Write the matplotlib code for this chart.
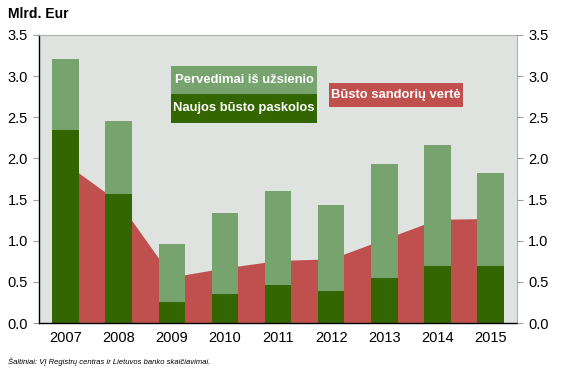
import numpy as np
import matplotlib
matplotlib.use("Agg")
import matplotlib.pyplot as plt
from matplotlib.patches import Rectangle

# ---------------------------------------------------------------------------
# Data (mlrd. Eur)
# ---------------------------------------------------------------------------
years      = [2007, 2008, 2009, 2010, 2011, 2012, 2013, 2014, 2015]
loans      = [2.35, 1.57, 0.26, 0.35, 0.46, 0.39, 0.55, 0.69, 0.69]   # Naujos būsto paskolos
transfers  = [0.86, 0.88, 0.70, 0.99, 1.15, 1.04, 1.38, 1.47, 1.13]   # Pervedimai iš užsienio
deals      = [1.94, 1.47, 0.56, 0.67, 0.76, 0.78, 1.02, 1.26, 1.27]   # Būsto sandorių vertė
yticks     = [0.0, 0.5, 1.0, 1.5, 2.0, 2.5, 3.0, 3.5]

C_BG    = "#dfe3e0"
C_LIGHT = "#76a36e"
C_DARK  = "#336600"
C_RED   = "#c0504d"

plt.rcParams["font.family"] = ["Liberation Sans", "DejaVu Sans"]

fig = plt.figure(figsize=(5.79, 3.72), dpi=100)
ax = fig.add_axes([0.0674, 0.1317, 0.8256, 0.7743])
ax.set_facecolor(C_BG)

x = np.arange(len(years))
ax.fill_between(x, 0, deals, color=C_RED, linewidth=0, zorder=1)
ax.bar(x, loans, width=0.5, color=C_DARK, zorder=2)
ax.bar(x, transfers, width=0.5, bottom=loans, color=C_LIGHT, zorder=2)

ax.set_xlim(-0.5, len(years) - 0.5)
ax.set_ylim(0, 3.5)
ax.set_xticks(x)
ax.set_xticklabels([str(y) for y in years], fontsize=10.5)
ax.tick_params(axis="x", length=0, pad=6)
ax.set_yticks(yticks)
ax.set_yticklabels([f"{v:.1f}" for v in yticks], fontsize=10.5)
ax.tick_params(axis="y", length=4, color="#a0a0a0", pad=4)

for s in ["top", "right"]:
    ax.spines[s].set_color("#b0b0b0")
    ax.spines[s].set_linewidth(0.8)
for s in ["left", "bottom"]:
    ax.spines[s].set_color("black")
    ax.spines[s].set_linewidth(1.0)

ax2 = ax.twinx()
ax2.set_ylim(0, 3.5)
ax2.set_yticks(yticks)
ax2.set_yticklabels([f"{v:.1f}" for v in yticks], fontsize=10.5)
ax2.tick_params(axis="y", length=4, color="#a0a0a0", pad=4)
for s in ax2.spines.values():
    s.set_visible(False)

# legend-like labels (boxes in figure pixels -> fraction)
W, H = 579.0, 372.0
def label_box(x0, y0, x1, y1, color, text):
    fig.patches.append(Rectangle((x0 / W, 1 - y1 / H), (x1 - x0) / W, (y1 - y0) / H,
                                 transform=fig.transFigure, fc=color, ec="none", zorder=5))
    fig.text((x0 + x1) / 2 / W, 1 - (y0 + y1) / 2 / H, text, color="white",
             fontsize=9.4, fontweight="bold", ha="center", va="center", zorder=6)

label_box(171, 66, 317, 94, C_LIGHT, "Pervedimai iš užsienio")
label_box(171, 94, 317, 123, C_DARK, "Naujos būsto paskolos")
label_box(329, 83, 463, 107, C_RED, "Būsto sandorių vertė")

fig.text(0.014, 0.962, "Mlrd. Eur", fontsize=10, fontweight="bold", va="center")
fig.text(0.014, 0.027, "Šaltiniai: VĮ Registrų centras ir Lietuvos banko skaičiavimai.",
         fontsize=5.5, style="italic", va="center")

fig.savefig("out.png", dpi=100)
